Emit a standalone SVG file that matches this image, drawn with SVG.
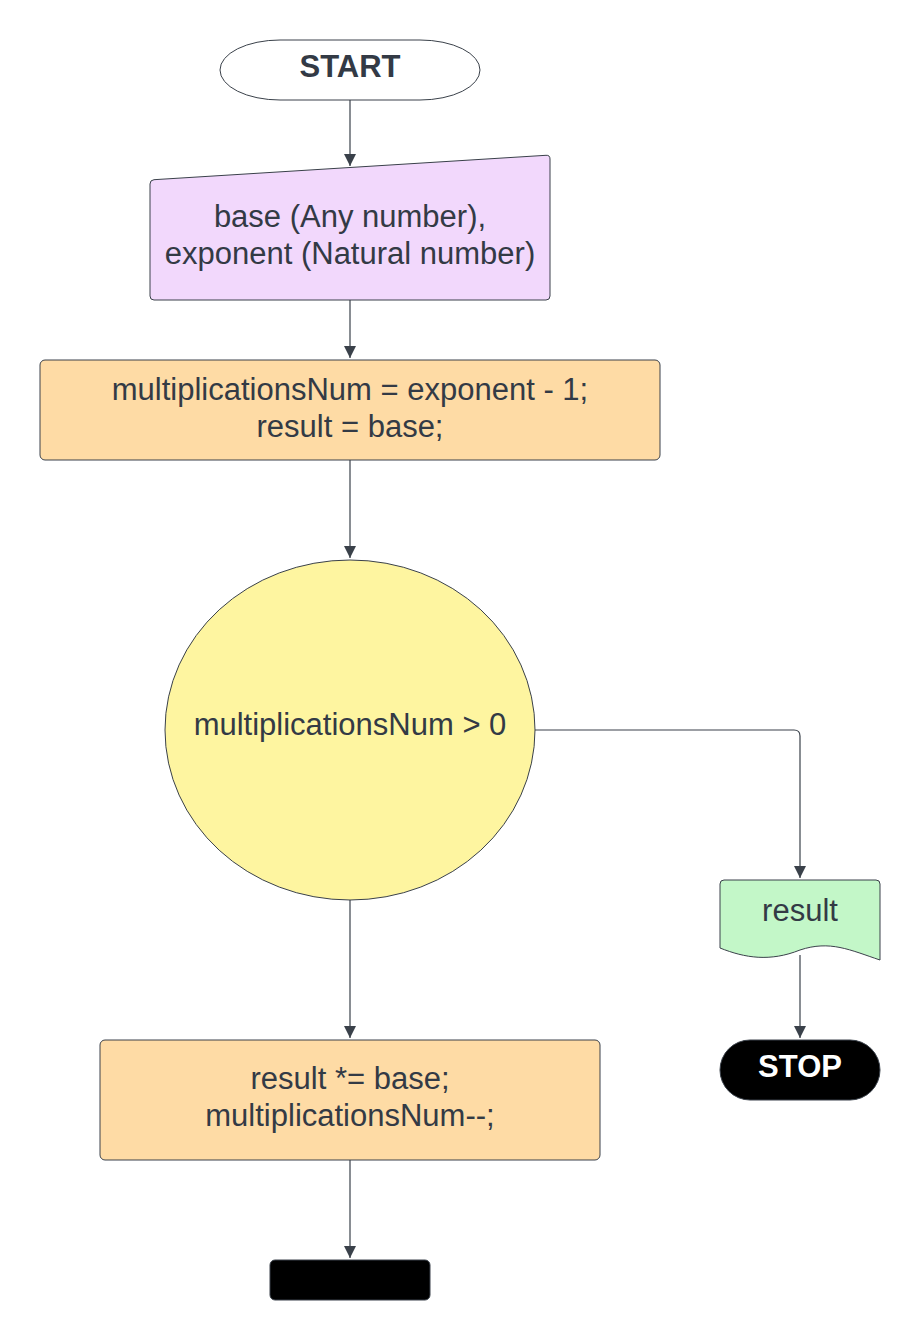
<svg xmlns="http://www.w3.org/2000/svg" width="920" height="1340" viewBox="0 0 920 1340">
<defs>
<marker id="ah" viewBox="0 0 12 14" refX="12" refY="7" markerWidth="12" markerHeight="14" markerUnits="userSpaceOnUse" orient="auto">
<path d="M0,1 L12,7 L0,13 Z" fill="#3a414a"/>
</marker>
<style>
.t{font-family:"Liberation Sans",Arial,sans-serif;font-size:31px;fill:#333a45;text-anchor:middle}
.b{font-weight:bold;font-size:31px}
.s{stroke:#3a414a;stroke-width:1}
.c{fill:none;stroke:#3a414a;stroke-width:1.2;marker-end:url(#ah)}
</style>
</defs>
<rect width="920" height="1340" fill="#ffffff"/>
<g id="connectors">
<path class="c" d="M350,100 L350,166"/>
<path class="c" d="M350,300 L350,358"/>
<path class="c" d="M350,460 L350,558"/>
<path class="c" d="M535,730 L794,730 Q800,730 800,736 L800,878"/>
<path class="c" d="M800,955 L800,1038"/>
<path class="c" d="M350,900 L350,1038"/>
<path class="c" d="M350,1160 L350,1258"/>
</g>
<g id="start">
<rect class="s" x="220" y="40" width="260" height="60" rx="60" ry="30" fill="#ffffff"/>
<text class="t b" x="350" y="77">START</text>
</g>
<g id="input">
<path class="s" d="M154,179.7 L546,155.3 Q550,155 550,159 L550,296 Q550,300 546,300 L154,300 Q150,300 150,296 L150,184 Q150,180 154,179.7 Z" fill="#f2d8fc"/>
<text class="t" x="350" y="227">base (Any number),</text>
<text class="t" x="350" y="264">exponent (Natural number)</text>
</g>
<g id="init">
<rect class="s" x="40" y="360" width="620" height="100" rx="5" fill="#fedba5"/>
<text class="t" x="350" y="400">multiplicationsNum = exponent - 1;</text>
<text class="t" x="350" y="437">result = base;</text>
</g>
<g id="decision">
<ellipse class="s" cx="350" cy="730" rx="185" ry="170" fill="#fef5a0"/>
<text class="t" x="350" y="735">multiplicationsNum &gt; 0</text>
</g>
<g id="output">
<path class="s" d="M724,880 L876,880 Q880,880 880,884 L880,960 C850,950 830,940 800,950 C770,962 745,958 720,948 L720,884 Q720,880 724,880 Z" fill="#c3f7c8"/>
<text class="t" x="800" y="921">result</text>
</g>
<g id="stop">
<rect class="s" x="720" y="1040" width="160" height="60" rx="30" fill="#000000"/>
<text class="t b" x="800" y="1077" style="fill:#ffffff">STOP</text>
</g>
<g id="loop">
<rect class="s" x="100" y="1040" width="500" height="120" rx="5" fill="#fedba5"/>
<text class="t" x="350" y="1089">result *= base;</text>
<text class="t" x="350" y="1126">multiplicationsNum--;</text>
</g>
<g id="end">
<rect class="s" x="270" y="1260" width="160" height="40" rx="5" fill="#000000"/>
</g>
</svg>
